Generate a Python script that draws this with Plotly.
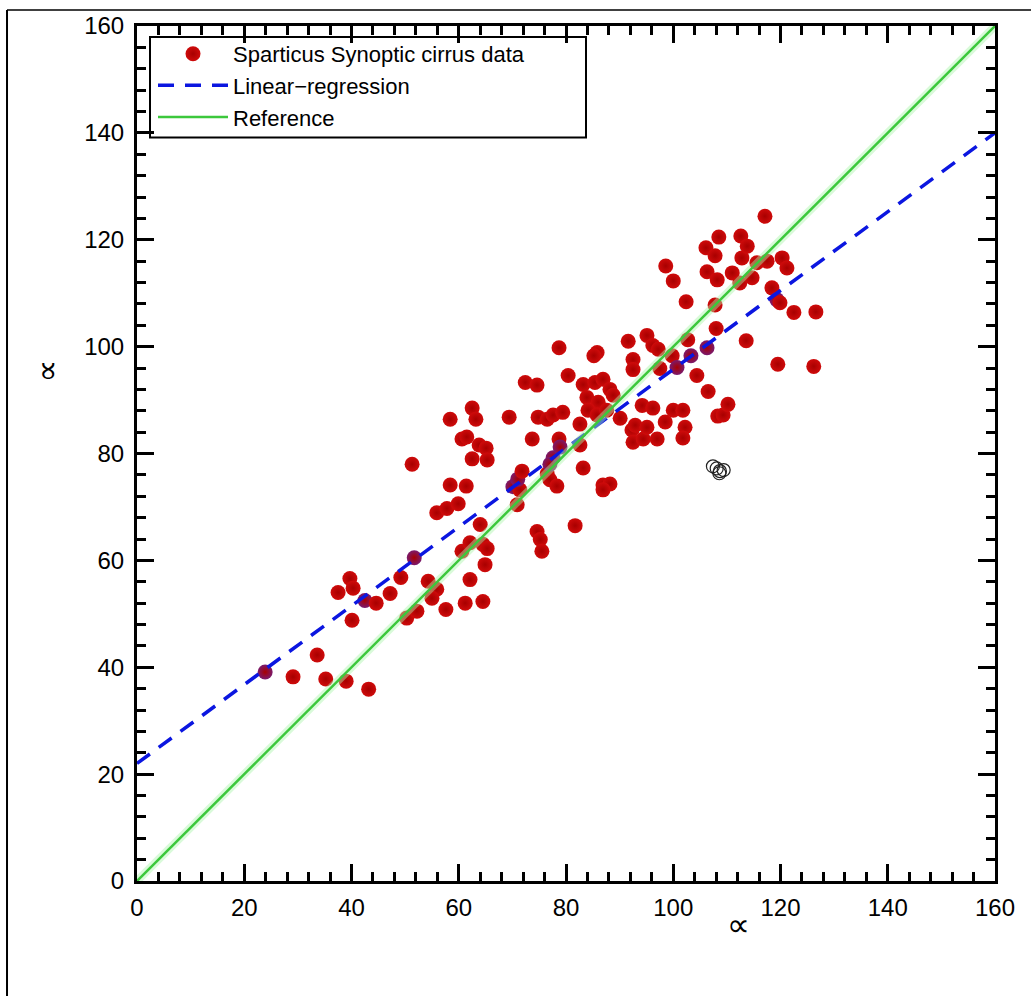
import plotly.graph_objects as go

# Sparticus Synoptic cirrus data (x, y)
data_x = [29.1, 23.9, 33.6, 35.2, 39.0, 43.2, 37.5, 39.7, 40.3, 40.1, 42.5, 44.6, 47.2, 49.2, 50.3,
          52.2, 51.7, 51.3, 54.3, 55.9, 55.0, 57.6, 55.9, 57.8, 58.4, 58.4, 59.9, 60.6, 61.5, 60.6,
          61.2, 61.4, 62.1, 62.1, 62.5, 63.2, 62.5, 63.8, 65.1, 65.3, 64.5, 65.3, 64.0, 64.5, 64.9,
          69.4, 70.1, 71.4, 70.9, 71.0, 71.8, 72.4, 74.6, 73.7, 74.6, 75.2, 75.5, 74.8, 76.5, 77.6,
          79.4, 76.5, 77.0, 78.3, 77.6, 77.0, 78.7, 78.9, 78.7, 80.4, 81.7, 82.6, 82.6, 83.2, 83.2,
          85.4, 86.9, 88.2, 83.9, 86.0, 88.8, 84.1, 85.8, 87.6, 90.1, 85.8, 85.2, 86.9, 88.2, 86.9,
          91.6, 92.5, 92.5, 92.3, 92.5, 92.9, 94.2, 96.2, 94.4, 95.1, 97.0, 95.1, 96.2, 97.2, 97.5,
          98.5, 100.0, 101.8, 102.2, 101.8, 98.6, 100.0, 99.8, 100.7, 102.4, 102.7, 103.3, 104.4, 106.3, 106.5,
          106.1, 107.8, 106.3, 108.2, 108.5, 107.8, 108.0, 108.3, 109.3, 110.2, 111.0, 112.4, 112.8, 112.6, 113.8,
          114.7, 113.6, 115.6, 117.5, 117.1, 120.3, 121.2, 118.4, 119.3, 119.9, 119.5, 122.5, 126.6, 126.2]
data_y = [38.2, 39.1, 42.3, 37.8, 37.4, 35.9, 54.0, 56.6, 54.8, 48.8, 52.5, 52.0, 53.8, 56.8, 49.2,
          50.5, 60.5, 78.0, 56.1, 54.6, 52.9, 50.8, 68.9, 69.7, 86.4, 74.1, 70.6, 82.7, 83.1, 61.7,
          52.0, 73.9, 63.3, 56.4, 88.5, 86.4, 79.0, 81.6, 81.0, 78.8, 63.0, 62.2, 66.7, 52.3, 59.2,
          86.8, 73.8, 73.2, 70.4, 75.2, 76.7, 93.3, 92.8, 82.7, 65.4, 63.9, 61.7, 86.8, 86.4, 87.2,
          87.7, 76.2, 75.1, 73.9, 79.2, 78.0, 82.7, 81.2, 99.8, 94.6, 66.5, 85.5, 81.6, 77.3, 92.9,
          93.3, 93.9, 92.0, 90.5, 89.6, 90.9, 88.1, 87.2, 88.1, 86.6, 98.9, 98.3, 74.1, 74.3, 73.2,
          101.0, 97.6, 95.7, 84.4, 82.1, 85.3, 89.0, 88.5, 82.7, 84.9, 82.7, 102.1, 100.2, 99.5, 95.9,
          85.9, 88.1, 88.1, 84.9, 82.9, 115.1, 112.3, 98.3, 96.1, 108.4, 101.3, 98.3, 94.6, 99.8, 91.6,
          118.5, 117.0, 114.0, 112.5, 120.5, 107.8, 103.4, 87.0, 87.2, 89.2, 113.8, 111.9, 116.6, 120.7, 118.8,
          112.9, 101.1, 115.7, 116.0, 124.4, 116.6, 114.7, 111.0, 108.8, 108.2, 96.7, 106.4, 106.5, 96.3]

# Open (excluded) points
open_x = [107.4, 108.1, 108.7, 109.4, 108.6]
open_y = [77.6, 77.2, 76.7, 76.9, 76.3]

# Linear regression: intercept / slope
reg_intercept = 22.0
reg_slope = 0.7375
line_x = [0, 160]

axis_range = [0, 160]
tick_vals = [0, 20, 40, 60, 80, 100, 120, 140, 160]

FONT = "Liberation Sans, Arial, Helvetica, sans-serif"

fig = go.Figure()

# points lying on the regression line look purple-ish (blending with the blue line)
pt_colors = []
for xx, yy in zip(data_x, data_y):
    d = abs(yy - (reg_intercept + reg_slope * xx))
    pt_colors.append("#7a1a6e" if d < 1.2 else "#cf0b0b")

fig.add_trace(go.Scatter(
    x=data_x, y=data_y, mode="markers", name="Sparticus Synoptic cirrus data",
    marker=dict(size=15, color=pt_colors, line=dict(width=0),
                gradient=dict(type="radial", color="#a80000")),
))
fig.add_trace(go.Scatter(
    x=open_x, y=open_y, mode="markers", showlegend=False,
    marker=dict(size=13, symbol="circle-open", color="#222222", line=dict(width=1.2)),
))
fig.add_trace(go.Scatter(
    x=line_x, y=[reg_intercept + reg_slope * v for v in line_x], mode="lines",
    name="Linear\u2212regression",
    line=dict(color="#0b16e0", width=3.5, dash="16px,11px"),
))
# faint glow under the reference line
fig.add_trace(go.Scatter(
    x=line_x, y=line_x, mode="lines", showlegend=False, hoverinfo="skip",
    line=dict(color="rgba(170,245,170,0.45)", width=8),
))
fig.add_trace(go.Scatter(
    x=line_x, y=line_x, mode="lines", name="Reference",
    line=dict(color="#3cc83c", width=2.5),
))

axis_common = dict(
    range=axis_range, tickvals=tick_vals, showgrid=False, zeroline=False,
    showline=True, linecolor="black", linewidth=3, mirror="allticks",
    ticks="inside", ticklen=17, tickwidth=2.5, tickcolor="black",
    minor=dict(ticks="inside", ticklen=9, tickwidth=2.5, tickcolor="black", dtick=4),
    tickfont=dict(family=FONT, size=24, color="black"),
)

# pixel-to-paper helpers for the legend frame (plot area 137..995 x 22..881)
def px(p):
    return (p - 137) / 858.0

def py(p):
    return (881 - p) / 859.0

fig.update_layout(
    width=1031, height=996,
    margin=dict(l=137, r=36, t=22, b=115),
    paper_bgcolor="white", plot_bgcolor="white",
    xaxis=dict(**axis_common, ticklabelstandoff=3),
    yaxis=dict(**axis_common, ticklabelstandoff=5),
    showlegend=True,
    legend=dict(x=px(153), y=py(29), xanchor="left", yanchor="top",
                bgcolor="rgba(0,0,0,0)", borderwidth=0,
                font=dict(family=FONT, size=22, color="black"),
                itemwidth=70, tracegroupgap=0),
    annotations=[
        dict(text="\u221d", xref="paper", yref="paper", x=0.7005, y=-0.0512,
             xanchor="center", yanchor="middle",
             showarrow=False, font=dict(family="DejaVu Sans", size=32, color="black")),
        dict(text="\u221d", xref="paper", yref="paper", x=-0.105, y=0.597,
             xanchor="center", yanchor="middle",
             showarrow=False, textangle=-90, font=dict(family="DejaVu Sans", size=32, color="black")),
    ],
    shapes=[
        dict(type="rect", xref="paper", yref="paper", x0=px(150), x1=px(586), y0=py(134), y1=py(33),
             fillcolor="white", line=dict(color="black", width=2), layer="below"),
        dict(type="line", xref="paper", yref="paper", x0=-0.1515, x1=-0.1515, y0=-0.2, y1=1.0186,
             line=dict(color="black", width=2)),
        dict(type="line", xref="paper", yref="paper", x0=-0.1515, x1=1.05, y0=1.0186, y1=1.0186,
             line=dict(color="black", width=1.5)),
    ],
)

fig.write_html("out.html")
